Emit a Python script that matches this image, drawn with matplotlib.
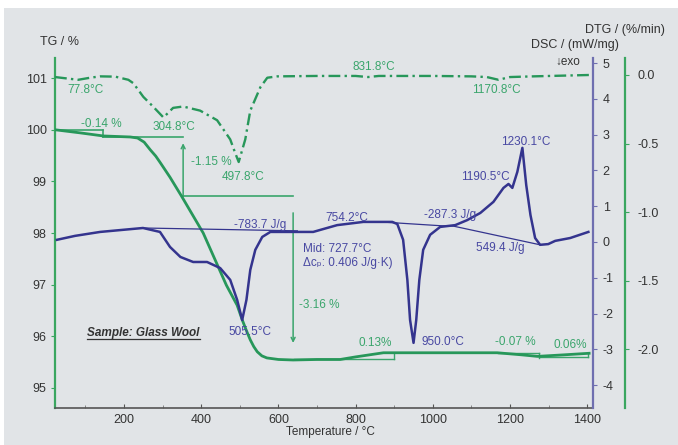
import matplotlib
matplotlib.use("Agg")
import matplotlib.pyplot as plt
from matplotlib.lines import Line2D
from matplotlib.patches import Rectangle
from matplotlib.ticker import MultipleLocator

plt.rcParams["font.family"] = ["Liberation Sans", "DejaVu Sans"]
plt.rcParams["axes.unicode_minus"] = False

# --- data ---
tg_temp = [21, 86, 146, 216, 235, 252, 268, 282, 294, 319, 350, 405, 465,
           493, 506, 518, 527, 536, 545, 557, 570, 600, 638, 700, 760, 800,
           872, 1000, 1167, 1230, 1271, 1340, 1405]
tg_mass = [100.0, 99.94, 99.88, 99.86, 99.84, 99.76, 99.61, 99.49, 99.36,
           99.08, 98.70, 98.0, 96.99, 96.6, 96.32, 96.09, 95.93, 95.80, 95.70,
           95.62, 95.58, 95.55, 95.54, 95.55, 95.55, 95.60, 95.68, 95.68,
           95.68, 95.64, 95.61, 95.64, 95.67]

dtg_temp = [21, 81, 112, 138, 177, 211, 224, 250, 275, 302, 327, 353, 397,
            441, 475, 488, 497, 514, 527, 553, 571, 597, 700, 800, 832, 860,
            1000, 1100, 1140, 1170, 1200, 1260, 1405]
dtg_rate = [-0.015, -0.035, -0.02, -0.01, -0.012, -0.035, -0.06, -0.16,
            -0.23, -0.31, -0.24, -0.23, -0.26, -0.33, -0.47, -0.57, -0.635,
            -0.47, -0.26, -0.09, -0.02, -0.01, -0.007, -0.007, -0.015,
            -0.007, -0.007, -0.01, -0.015, -0.035, -0.015, -0.01, 0.0]

dsc_temp = [26, 73, 138, 249, 293, 319, 346, 379, 415, 449, 475, 493, 506,
            517, 527, 540, 558, 579, 630, 690, 716, 752, 820, 895, 908, 923,
            934, 941, 950, 957, 965, 975, 993, 1019, 1058, 1089, 1123, 1157,
            1183, 1196, 1206, 1219, 1232, 1242, 1253, 1265, 1278, 1299, 1317,
            1356, 1403]
dsc_flow = [0.06, 0.17, 0.28, 0.39, 0.28, -0.14, -0.42, -0.56, -0.56, -0.73,
            -1.06, -1.62, -2.18, -1.62, -0.78, -0.22, 0.14, 0.28, 0.28, 0.28,
            0.36, 0.47, 0.56, 0.56, 0.50, 0.06, -1.06, -2.18, -2.82, -2.18,
            -1.06, -0.22, 0.20, 0.42, 0.47, 0.61, 0.81, 1.12, 1.51, 1.62,
            1.51, 1.96, 2.63, 1.59, 0.75, 0.11, -0.08, -0.06, 0.03, 0.11, 0.28]

# evaluation lines (temperature, value)
dsc_base1_t = [249, 649]
dsc_base1_v = [0.39, 0.31]
dsc_base2_t = [864, 1025, 1050]
dsc_base2_v = [0.56, 0.45, 0.45]
dsc_base3_t = [1050, 1278]
dsc_base3_v = [0.45, -0.08]

GREEN = "#27975a"
GREEN_TXT = "#3aa56c"
BLUE = "#34348e"
BLUE_TXT = "#4848a2"
DARK = "#333333"
BG = "#e1e4e7"

fig = plt.figure(figsize=(6.78, 4.45), dpi=100, facecolor="white")
fig.patches.append(Rectangle((4 / 678, 0), 1, 1 - 8 / 445, transform=fig.transFigure,
                             facecolor=BG, edgecolor="none", zorder=-10))

ax = fig.add_axes([55 / 678, 37 / 445, 538 / 678, 350 / 445])
ax.set_facecolor("none")
ax2 = ax.twinx()
ax3 = ax.twinx()

# TG axis
ax.set_xlim(21, 1415)
ax.set_ylim(94.61, 101.39)
ax.plot(tg_temp, tg_mass, color=GREEN, lw=2.0, zorder=5)
ax.spines["top"].set_visible(False)
ax.spines["right"].set_visible(False)
ax.spines["left"].set_color("#3aa660")
ax.spines["left"].set_linewidth(1.6)
ax.spines["bottom"].set_color("#555555")
ax.spines["bottom"].set_linewidth(1.2)
ax.set_yticks([95, 96, 97, 98, 99, 100, 101])
ax.xaxis.set_major_locator(MultipleLocator(200))
ax.xaxis.set_minor_locator(MultipleLocator(100))
ax.set_xticks([200, 400, 600, 800, 1000, 1200, 1400])
ax.tick_params(axis="x", direction="in", length=3, colors="#555555",
               labelcolor=DARK, labelsize=9, pad=4)
ax.tick_params(axis="x", which="minor", direction="in", length=2, colors="#777777")
ax.tick_params(axis="y", direction="out", length=3, colors="#3aa660",
               labelcolor=DARK, labelsize=9, pad=3)

# TG step evaluation
ax.plot([21, 146], [100.0, 100.0], color=GREEN_TXT, lw=1.2)
ax.plot([146, 146], [100.0, 99.86], color=GREEN_TXT, lw=1.2)
ax.plot([146, 353], [99.86, 99.86], color=GREEN_TXT, lw=1.2)
ax.annotate("", xy=(353, 99.74), xytext=(353, 98.71),
            arrowprops=dict(arrowstyle="->", color=GREEN_TXT, lw=1.1,
                            shrinkA=0, shrinkB=0, mutation_scale=7))
ax.plot([353, 638], [98.71, 98.71], color=GREEN_TXT, lw=1.2)
ax.annotate("", xy=(638, 95.87), xytext=(638, 98.39),
            arrowprops=dict(arrowstyle="->", color=GREEN_TXT, lw=1.1,
                            shrinkA=0, shrinkB=0, mutation_scale=7))
ax.plot([640, 900], [95.55, 95.55], color=GREEN_TXT, lw=1.0)
ax.plot([900, 900], [95.55, 95.68], color=GREEN_TXT, lw=1.0)
ax.plot([1170, 1275], [95.68, 95.68], color=GREEN_TXT, lw=1.0)
ax.plot([1275, 1275], [95.68, 95.57], color=GREEN_TXT, lw=1.0)
ax.plot([1275, 1403], [95.59, 95.59], color=GREEN_TXT, lw=1.0)
ax.plot([1403, 1403], [95.59, 95.68], color=GREEN_TXT, lw=1.0)

# DSC axis
ax2.set_ylim(-4.64, 5.14)
ax2.plot(dsc_temp, dsc_flow, color=BLUE, lw=1.8, zorder=4)
ax2.plot(dsc_base1_t, dsc_base1_v, color=BLUE, lw=0.9)
ax2.plot(dsc_base2_t, dsc_base2_v, color=BLUE, lw=0.9)
ax2.plot(dsc_base3_t, dsc_base3_v, color=BLUE, lw=0.9)
for s in ["top", "left", "bottom"]:
    ax2.spines[s].set_visible(False)
ax2.spines["right"].set_color("#6f6fb0")
ax2.spines["right"].set_linewidth(1.6)
ax2.set_yticks([-4, -3, -2, -1, 0, 1, 2, 3, 4, 5])
ax2.tick_params(axis="y", direction="out", length=3, colors="#6f6fb0",
                labelcolor=DARK, labelsize=9, pad=4)

# DTG axis
ax3.set_ylim(-2.43, 0.124)
ax3.plot(dtg_temp, dtg_rate, color=GREEN, lw=1.7,
         dashes=(5, 1.8, 1, 1.8), zorder=3)
for s in ["top", "left", "bottom"]:
    ax3.spines[s].set_visible(False)
ax3.spines["right"].set_position(("outward", 23))
ax3.spines["right"].set_color("#3aa660")
ax3.spines["right"].set_linewidth(1.6)
ax3.set_yticks([-2.0, -1.5, -1.0, -0.5, 0.0])
ax3.set_yticklabels(["-2.0", "-1.5", "-1.0", "-0.5", "0.0"])
ax3.tick_params(axis="y", direction="out", length=3, colors="#3aa660",
                labelcolor=DARK, labelsize=9, pad=6)

# green annotations (TG coordinates)
fs = 8.5
green_labels = [("77.8°C", 99, 100.77), ("-0.14 %", 142, 100.11),
                ("304.8°C", 328, 100.05), ("-1.15 %", 426, 99.37),
                ("497.8°C", 507, 99.08), ("831.8°C", 846, 101.21),
                ("1170.8°C", 1165, 100.77), ("-3.16 %", 706, 96.61),
                ("0.13%", 851, 95.87), ("-0.07 %", 1214, 95.89),
                ("0.06%", 1356, 95.83)]
for txt, t, v in green_labels:
    ax.text(t, v, txt, color=GREEN_TXT, fontsize=fs, ha="center", va="center", zorder=8)

# blue annotations (DSC coordinates)
blue_labels = [("-783.7 J/g", 553, 0.47), ("754.2°C", 778, 0.67),
               ("505.5°C", 527, -2.51), ("950.0°C", 1025, -2.79),
               ("-287.3 J/g", 1045, 0.75), ("549.4 J/g", 1175, -0.17),
               ("1190.5°C", 1136, 1.82), ("1230.1°C", 1242, 2.79)]
for txt, t, v in blue_labels:
    ax2.text(t, v, txt, color=BLUE_TXT, fontsize=fs, ha="center", va="center", zorder=8)
ax2.text(664, -0.2, "Mid: 727.7°C", color=BLUE_TXT, fontsize=fs, ha="left", va="center")
ax2.text(664, -0.59, "Δcₚ: 0.406 J/g·K)", color=BLUE_TXT, fontsize=fs,
         ha="left", va="center")
ax2.text(1351, 5.03, "↓exo", color=DARK, fontsize=fs, ha="center", va="center")

sample = ax.text(250, 96.07, "Sample: Glass Wool", color=DARK, fontsize=8.5,
                 fontweight="bold", fontstyle="italic", ha="center", va="center")

# axis titles
fig.text(60 / 678, 1 - 42 / 445, "TG / %", color=DARK, fontsize=9, ha="center", va="center")
fig.text(575 / 678, 1 - 45 / 445, "DSC / (mW/mg)", color=DARK, fontsize=9,
         ha="center", va="center")
fig.text(625 / 678, 1 - 30 / 445, "DTG / (%/min)", color=DARK, fontsize=9,
         ha="center", va="center")
fig.text(330 / 678, 1 - 432 / 445, "Temperature / °C", color=DARK, fontsize=8.5,
         ha="center", va="center")

# underline the sample name
fig.canvas.draw()
bb = sample.get_window_extent().transformed(fig.transFigure.inverted())
fig.lines.append(Line2D([bb.x0, bb.x1], [bb.y0, bb.y0], transform=fig.transFigure,
                        color=DARK, lw=0.9))

fig.savefig("out.png", dpi=100, facecolor="white")
